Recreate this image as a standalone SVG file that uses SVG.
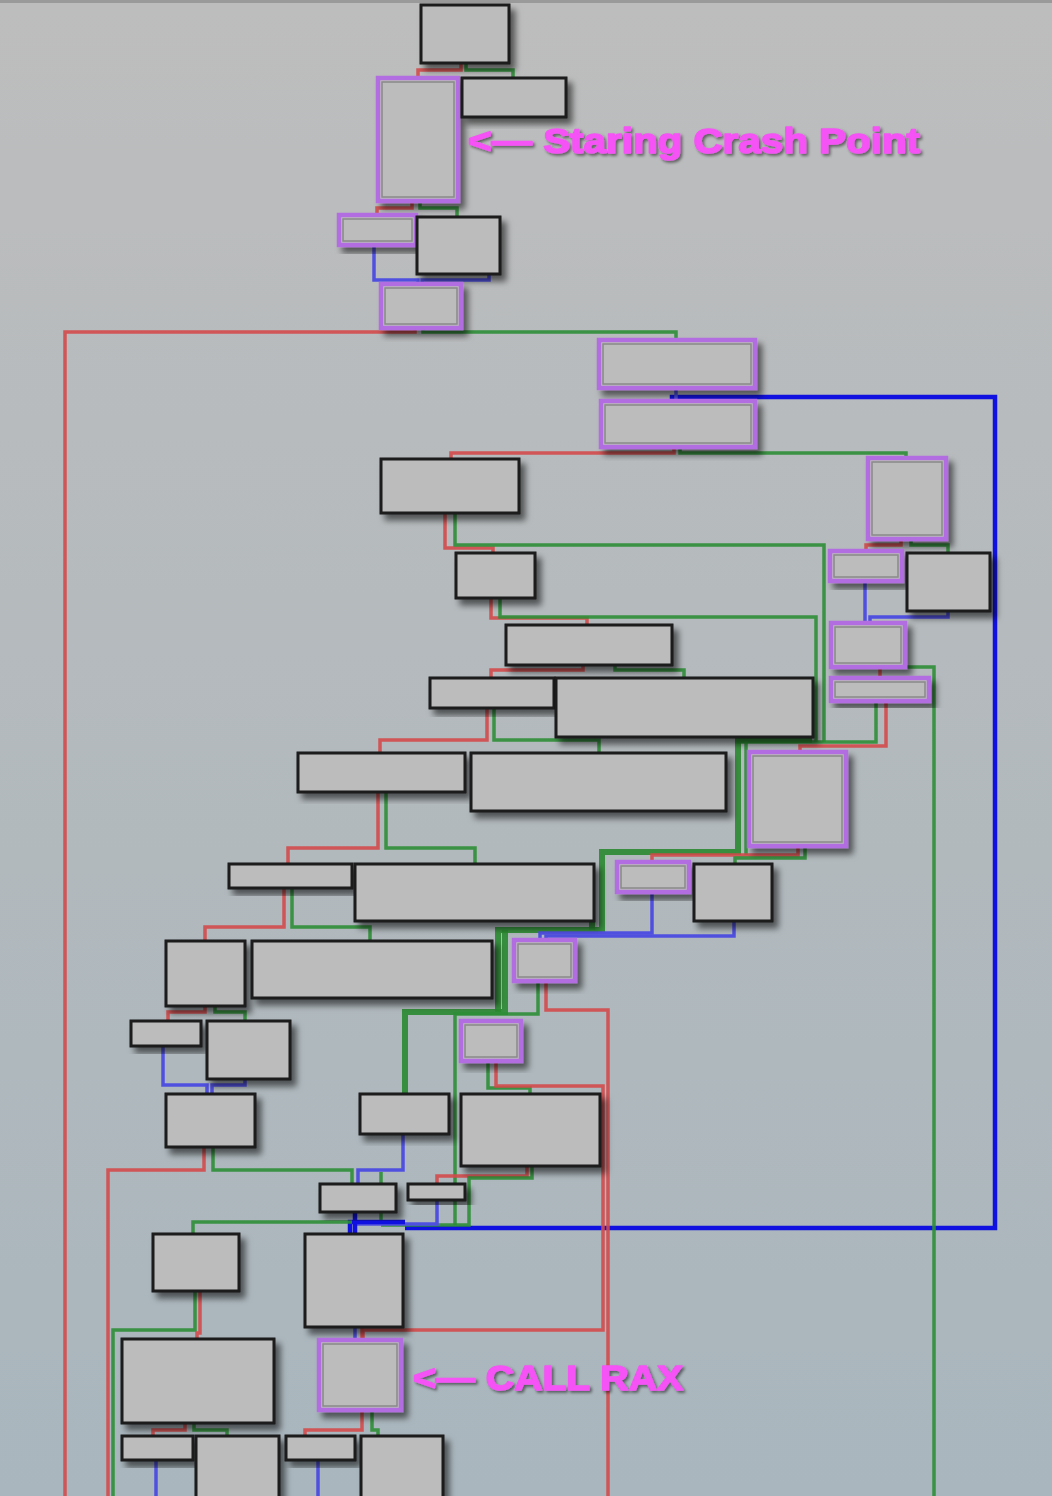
<svg xmlns="http://www.w3.org/2000/svg" width="1052" height="1496" viewBox="0 0 1052 1496">
<defs>
<linearGradient id="bg" x1="0" y1="0" x2="0" y2="1">
<stop offset="0" stop-color="#bdbdbd"/>
<stop offset="1" stop-color="#a9b6bd"/>
</linearGradient>
<filter id="sh" x="-20%" y="-20%" width="150%" height="150%">
<feDropShadow dx="5" dy="6" stdDeviation="3" flood-color="#000" flood-opacity="0.55"/>
</filter>
<filter id="tsh" x="-10%" y="-30%" width="120%" height="160%">
<feDropShadow dx="2" dy="2" stdDeviation="1.5" flood-color="#000" flood-opacity="0.5"/>
</filter>
</defs>
<style>
.n{fill:#bcbcbc;stroke:#1a1a1a;stroke-width:3;filter:url(#sh)}
.p{fill:#bcbcbc;stroke:#b26ee0;stroke-width:4.5;filter:url(#sh)}
.pi{fill:none;stroke:#2a2a2a;stroke-width:1.5;stroke-opacity:0.35}
.e{fill:none;stroke-width:3.5;stroke-linejoin:miter}
.r{stroke:#d44a4a;stroke-opacity:0.9}
.g{stroke:#2e8e36;stroke-opacity:0.9}
.gt{stroke:#2a8a30;stroke-width:6;stroke-opacity:0.9}
.b{stroke:#5050e0}
.bb{stroke:#1010e0;stroke-width:4.5}
.lbl{font-family:"Liberation Sans",Arial,sans-serif;font-weight:bold;font-size:35px;fill:#f552f5;stroke:#f552f5;stroke-width:1.6;stroke-linejoin:round;filter:url(#tsh)}
</style>
<rect x="0" y="0" width="1052" height="1496" fill="url(#bg)"/>
<rect x="0" y="0" width="1052" height="3" fill="#9a9a9a"/>

<g id="connectors">
<polyline class="e r" points="461,63 461,70 418,70 418,77"/>
<polyline class="e g" points="466,63 466,70 513,70 513,77"/>
<polyline class="e r" points="412,201 412,208 377,208 377,215"/>
<polyline class="e g" points="420,201 420,208 457,208 457,217"/>
<polyline class="e b" points="374,245 374,280 418,280 418,284"/>
<polyline class="e b" points="489,274 489,280 422,280 422,284"/>
<polyline class="e r" points="415,328 415,332 65,332 65,1496"/>
<polyline class="e g" points="423,328 423,332 676,332 676,340"/>
<polyline class="e bb" points="405,1228 995,1228 995,397 672,397 672,401"/>
<polyline class="e b" points="676,388 676,401"/>
<polyline class="e r" points="674,447 674,453 451,453 451,459"/>
<polyline class="e g" points="680,447 680,453 906,453 906,458"/>
<polyline class="e r" points="445,513 445,548 493,548 493,553"/>
<polyline class="e g" points="455,513 455,545 824,545 824,742"/>
<polyline class="e r" points="491,598 491,618 587,618 587,625"/>
<polyline class="e g" points="500,598 500,617 816,617 816,742"/>
<polyline class="e r" points="901,539 901,545 866,545 866,551"/>
<polyline class="e g" points="911,539 911,545 948,545 948,553"/>
<polyline class="e b" points="865,581 865,623"/>
<polyline class="e b" points="948,611 948,617 870,617 870,623"/>
<polyline class="e r" points="880,667 880,678"/>
<polyline class="e g" points="896,667 934,667 934,1496"/>
<polyline class="e r" points="886,701 886,746 800,746 800,752"/>
<polyline class="e g" points="876,701 876,742 735,742"/>
<polyline class="e r" points="583,665 583,670 491,670 491,678"/>
<polyline class="e g" points="615,665 615,670 684,670 684,678"/>
<polyline class="e r" points="487,708 487,740 380,740 380,753"/>
<polyline class="e g" points="494,708 494,740 599,740 599,753"/>
<polyline class="e gt" points="812,740 738,740 738,852 602,852 602,930 498,930 498,1012"/>
<polyline class="e g" points="746,740 746,855"/>
<polyline class="e r" points="378,792 378,848 288,848 288,864"/>
<polyline class="e g" points="386,792 386,848 475,848 475,864"/>
<polyline class="e r" points="284,888 284,927 205,927 205,941"/>
<polyline class="e g" points="292,888 292,927 370,927 370,941"/>
<polyline class="e r" points="798,846 798,855 652,855 652,862"/>
<polyline class="e g" points="805,846 805,858 735,858 735,864"/>
<polyline class="e gt" points="592,922 592,930"/>
<polyline class="e gt" points="505,930 505,1012 405,1012 405,1094"/>
<polyline class="e b" points="652,892 652,933 540,933 540,940"/>
<polyline class="e b" points="734,921 734,936 546,936 546,940"/>
<polyline class="e g" points="538,981 538,1014 455,1014 455,1225"/>
<polyline class="e r" points="546,981 546,1010 608,1010 608,1496"/>
<polyline class="e g" points="488,1061 488,1088 530,1088 530,1094"/>
<polyline class="e r" points="496,1061 496,1086 603,1086 603,1330 363,1330 363,1340"/>
<polyline class="e r" points="205,1006 205,1012 168,1012 168,1021"/>
<polyline class="e g" points="215,1006 215,1012 245,1012 245,1021"/>
<polyline class="e b" points="163,1046 163,1085 207,1085 207,1094"/>
<polyline class="e b" points="245,1079 245,1085 212,1085 212,1094"/>
<polyline class="e r" points="204,1147 204,1170 108,1170 108,1496"/>
<polyline class="e g" points="213,1147 213,1170 352,1170 352,1184"/>
<polyline class="e b" points="403,1134 403,1170 358,1170 358,1184"/>
<polyline class="e r" points="527,1166 527,1176 437,1176 437,1184"/>
<polyline class="e g" points="532,1166 532,1178 469,1178 469,1225 381,1225"/>
<polyline class="e g" points="381,1172 381,1225"/>
<polyline class="e b" points="437,1200 437,1224 355,1224"/>
<polyline class="e bb" points="355,1212 355,1234"/>
<polyline class="e bb" points="405,1222 350,1222 350,1234"/>
<polyline class="e g" points="352,1222 193,1222 193,1234"/>
<polyline class="e g" points="195,1291 195,1330 113,1330 113,1496"/>
<polyline class="e r" points="200,1291 200,1333 197,1333 197,1339"/>
<polyline class="e b" points="355,1327 355,1340"/>
<polyline class="e r" points="362,1327 362,1340"/>
<polyline class="e r" points="185,1423 185,1430 153,1430 153,1436"/>
<polyline class="e g" points="194,1423 194,1430 227,1430 227,1436"/>
<polyline class="e r" points="362,1410 362,1430 305,1430 305,1436"/>
<polyline class="e g" points="372,1410 372,1430 378,1430 378,1436"/>
<polyline class="e b" points="156,1460 156,1496"/>
<polyline class="e b" points="318,1460 318,1496"/>
</g>

<g id="n1"><rect class="n" x="421" y="5" width="88" height="58"/></g>
<g id="n2"><rect class="p" x="378" y="78" width="80" height="123"/><rect class="pi" x="382" y="82" width="72" height="115"/></g>
<g id="n3"><rect class="n" x="462" y="78" width="104" height="39"/></g>
<g id="n4"><rect class="p" x="339" y="215" width="77" height="30"/><rect class="pi" x="343" y="219" width="69" height="22"/></g>
<g id="n5"><rect class="n" x="417" y="217" width="83" height="57"/></g>
<g id="n6"><rect class="p" x="381" y="284" width="80" height="44"/><rect class="pi" x="385" y="288" width="72" height="36"/></g>
<g id="n7"><rect class="p" x="599" y="340" width="156" height="48"/><rect class="pi" x="603" y="344" width="148" height="40"/></g>
<g id="n8"><rect class="p" x="601" y="401" width="154" height="46"/><rect class="pi" x="605" y="405" width="146" height="38"/></g>
<g id="n9"><rect class="n" x="381" y="459" width="138" height="54"/></g>
<g id="n10"><rect class="p" x="868" y="458" width="78" height="81"/><rect class="pi" x="872" y="462" width="70" height="73"/></g>
<g id="n11"><rect class="n" x="456" y="553" width="79" height="45"/></g>
<g id="n12"><rect class="p" x="830" y="551" width="72" height="30"/><rect class="pi" x="834" y="555" width="64" height="22"/></g>
<g id="n13"><rect class="n" x="907" y="553" width="83" height="58"/></g>
<g id="n14"><rect class="n" x="506" y="625" width="166" height="40"/></g>
<g id="n15"><rect class="p" x="831" y="623" width="74" height="44"/><rect class="pi" x="835" y="627" width="66" height="36"/></g>
<g id="n16"><rect class="n" x="430" y="678" width="124" height="30"/></g>
<g id="n17"><rect class="n" x="556" y="678" width="257" height="59"/></g>
<g id="n18"><rect class="p" x="831" y="678" width="98" height="23"/><rect class="pi" x="835" y="682" width="90" height="15"/></g>
<g id="n19"><rect class="n" x="298" y="753" width="167" height="39"/></g>
<g id="n20"><rect class="n" x="471" y="753" width="255" height="58"/></g>
<g id="n21"><rect class="p" x="749" y="752" width="97" height="94"/><rect class="pi" x="753" y="756" width="89" height="86"/></g>
<g id="n22"><rect class="n" x="229" y="864" width="123" height="24"/></g>
<g id="n23"><rect class="n" x="355" y="864" width="239" height="57"/></g>
<g id="n24"><rect class="p" x="617" y="862" width="72" height="30"/><rect class="pi" x="621" y="866" width="64" height="22"/></g>
<g id="n25"><rect class="n" x="694" y="864" width="78" height="57"/></g>
<g id="n26"><rect class="n" x="166" y="941" width="79" height="65"/></g>
<g id="n27"><rect class="n" x="252" y="941" width="240" height="57"/></g>
<g id="n28"><rect class="p" x="514" y="940" width="61" height="41"/><rect class="pi" x="518" y="944" width="53" height="33"/></g>
<g id="n29"><rect class="n" x="131" y="1021" width="70" height="25"/></g>
<g id="n30"><rect class="n" x="207" y="1021" width="83" height="58"/></g>
<g id="n31"><rect class="p" x="461" y="1021" width="60" height="40"/><rect class="pi" x="465" y="1025" width="52" height="32"/></g>
<g id="n32"><rect class="n" x="166" y="1094" width="89" height="53"/></g>
<g id="n33"><rect class="n" x="360" y="1094" width="89" height="40"/></g>
<g id="n34"><rect class="n" x="461" y="1094" width="139" height="72"/></g>
<g id="n35"><rect class="n" x="320" y="1184" width="76" height="28"/></g>
<g id="n36"><rect class="n" x="408" y="1184" width="57" height="16"/></g>
<g id="n37"><rect class="n" x="153" y="1234" width="86" height="57"/></g>
<g id="n38"><rect class="n" x="305" y="1234" width="98" height="93"/></g>
<g id="n39"><rect class="n" x="122" y="1339" width="152" height="84"/></g>
<g id="n40"><rect class="p" x="319" y="1340" width="82" height="70"/><rect class="pi" x="323" y="1344" width="74" height="62"/></g>
<g id="n41"><rect class="n" x="122" y="1436" width="71" height="24"/></g>
<g id="n42"><rect class="n" x="196" y="1436" width="83" height="64"/></g>
<g id="n43"><rect class="n" x="286" y="1436" width="69" height="24"/></g>
<g id="n44"><rect class="n" x="361" y="1436" width="82" height="64"/></g>

<g id="labels">
<text class="lbl" x="468" y="153" textLength="452" lengthAdjust="spacingAndGlyphs">&lt;— Staring Crash Point</text>
<text class="lbl" x="413" y="1390" textLength="270" lengthAdjust="spacingAndGlyphs">&lt;— CALL RAX</text>
</g>
</svg>
